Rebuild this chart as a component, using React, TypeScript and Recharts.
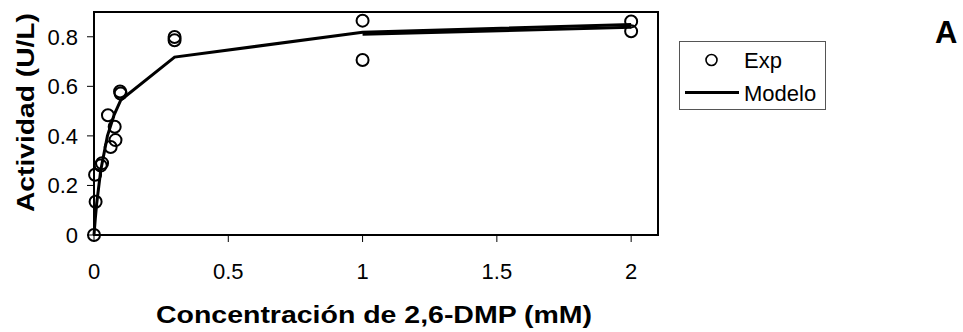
import React from 'react';
import { ComposedChart, XAxis, YAxis, Scatter, Line, ReferenceArea } from 'recharts';

// Experimental points (Exp)
const expX = [0, 0.006, 0.004, 0.025, 0.03, 0.052, 0.062, 0.077, 0.08, 0.097, 0.099, 0.3, 0.3, 1, 1, 2, 2];
const expY = [0, 0.134, 0.243, 0.28, 0.29, 0.483, 0.355, 0.437, 0.383, 0.579, 0.571, 0.799, 0.786, 0.865, 0.706, 0.862, 0.822];

// Model curve (Modelo)
const modelX = [0, 0.005, 0.01, 0.025, 0.05, 0.075, 0.1, 0.3, 1, 2];
const modelY = [0, 0.068, 0.127, 0.26, 0.4, 0.485, 0.545, 0.718, 0.818, 0.85];
// second (overlapping) model trace on the last segment
const modelTailX = [1, 2];
const modelTailY = [0.81, 0.838];

const xTicks = [0, 0.5, 1, 1.5, 2];
const yTicks = [0, 0.2, 0.4, 0.6, 0.8];
const xDomain: [number, number] = [0, 2.1];
const yDomain: [number, number] = [0, 0.9];

const xTitle = 'Concentración de 2,6-DMP (mM)';
const yTitle = 'Actividad (U/L)';
const legendLabels = ['Exp', 'Modelo'];
const panelLetter = 'A';

const expData = expX.map((x, i) => ({ x, y: expY[i] }));
const modelData = modelX.map((x, i) => ({ x, y: modelY[i] }));
const modelTailData = modelTailX.map((x, i) => ({ x, y: modelTailY[i] }));

const FONT = '"Liberation Sans", Arial, Helvetica, sans-serif';

const Circle = (p: any) => (
  <circle cx={p.cx} cy={p.cy} r={6} fill="none" stroke="#000" strokeWidth={2} />
);

const XTitle = (props: any) => {
  const vb = props.viewBox || {};
  const cx = vb.x + vb.width / 2 - 2;
  return (
    <text
      x={cx}
      y={vb.y + 88}
      textAnchor="middle"
      fontFamily={FONT}
      fontWeight="bold"
      fontSize={24}
      fill="#000"
      textLength={436}
      lengthAdjust="spacingAndGlyphs"
    >
      {xTitle}
    </text>
  );
};

const YTitle = (props: any) => {
  const vb = props.viewBox || {};
  const x = vb.x + 20;
  const y = vb.y + vb.height / 2 - 11;
  return (
    <text
      x={x}
      y={y}
      transform={`rotate(-90, ${x}, ${y})`}
      textAnchor="middle"
      fontFamily={FONT}
      fontWeight="bold"
      fontSize={24}
      fill="#000"
      textLength={199}
      lengthAdjust="spacingAndGlyphs"
    >
      {yTitle}
    </text>
  );
};

export default function App() {
  const tickStyle = { fontSize: 22, fill: '#000', fontFamily: FONT };
  return (
    <div style={{ position: 'absolute', left: 0, top: 0, width: 963, height: 332, background: '#fff' }}>
      <ComposedChart
        width={963}
        height={332}
        margin={{ top: 12, right: 305, bottom: 37, left: 14 }}
        style={{ fontFamily: FONT }}
      >
        <XAxis
          type="number"
          dataKey="x"
          domain={xDomain}
          ticks={xTicks}
          height={60}
          tickSize={7}
          tickMargin={21}
          axisLine={{ stroke: '#000', strokeWidth: 2 }}
          tickLine={{ stroke: '#000', strokeWidth: 1 }}
          tick={tickStyle}
          label={<XTitle />}
        />
        <YAxis
          type="number"
          dataKey="y"
          domain={yDomain}
          ticks={yTicks}
          width={80}
          tickSize={7}
          tickMargin={9}
          axisLine={{ stroke: '#000', strokeWidth: 2 }}
          tickLine={{ stroke: '#000', strokeWidth: 1 }}
          tick={tickStyle}
          label={<YTitle />}
        />
        <ReferenceArea
          x1={xDomain[0]}
          x2={xDomain[1]}
          y1={yDomain[0]}
          y2={yDomain[1]}
          fill="none"
          fillOpacity={0}
          stroke="#000"
          strokeWidth={2}
          ifOverflow="visible"
        />
        <Scatter
          name={legendLabels[0]}
          data={expData}
          dataKey="y"
          shape={Circle}
          isAnimationActive={false}
        />
        <Line
          name={legendLabels[1]}
          data={modelData}
          dataKey="y"
          type="linear"
          stroke="#000"
          strokeWidth={3}
          dot={false}
          activeDot={false}
          isAnimationActive={false}
        />
        <Line
          name="modelTail"
          legendType="none"
          data={modelTailData}
          dataKey="y"
          type="linear"
          stroke="#000"
          strokeWidth={3}
          dot={false}
          activeDot={false}
          isAnimationActive={false}
        />
      </ComposedChart>
      <svg
        width={963}
        height={332}
        style={{ position: 'absolute', left: 0, top: 0, pointerEvents: 'none' }}
        fontFamily={FONT}
      >
        <rect x={679.5} y={41.5} width={146} height={68} fill="#fff" stroke="#555" strokeWidth={1} />
        <circle cx={711.5} cy={60} r={5.5} fill="none" stroke="#000" strokeWidth={1.6} />
        <text x={744} y={67.5} fontSize={22} fill="#000">{legendLabels[0]}</text>
        <line x1={685} y1={92.5} x2={739} y2={92.5} stroke="#000" strokeWidth={3} />
        <text x={744} y={100.5} fontSize={22} fill="#000">{legendLabels[1]}</text>
        <text x={935} y={43} fontSize={31} fontWeight="bold" fill="#000">{panelLetter}</text>
      </svg>
    </div>
  );
}
